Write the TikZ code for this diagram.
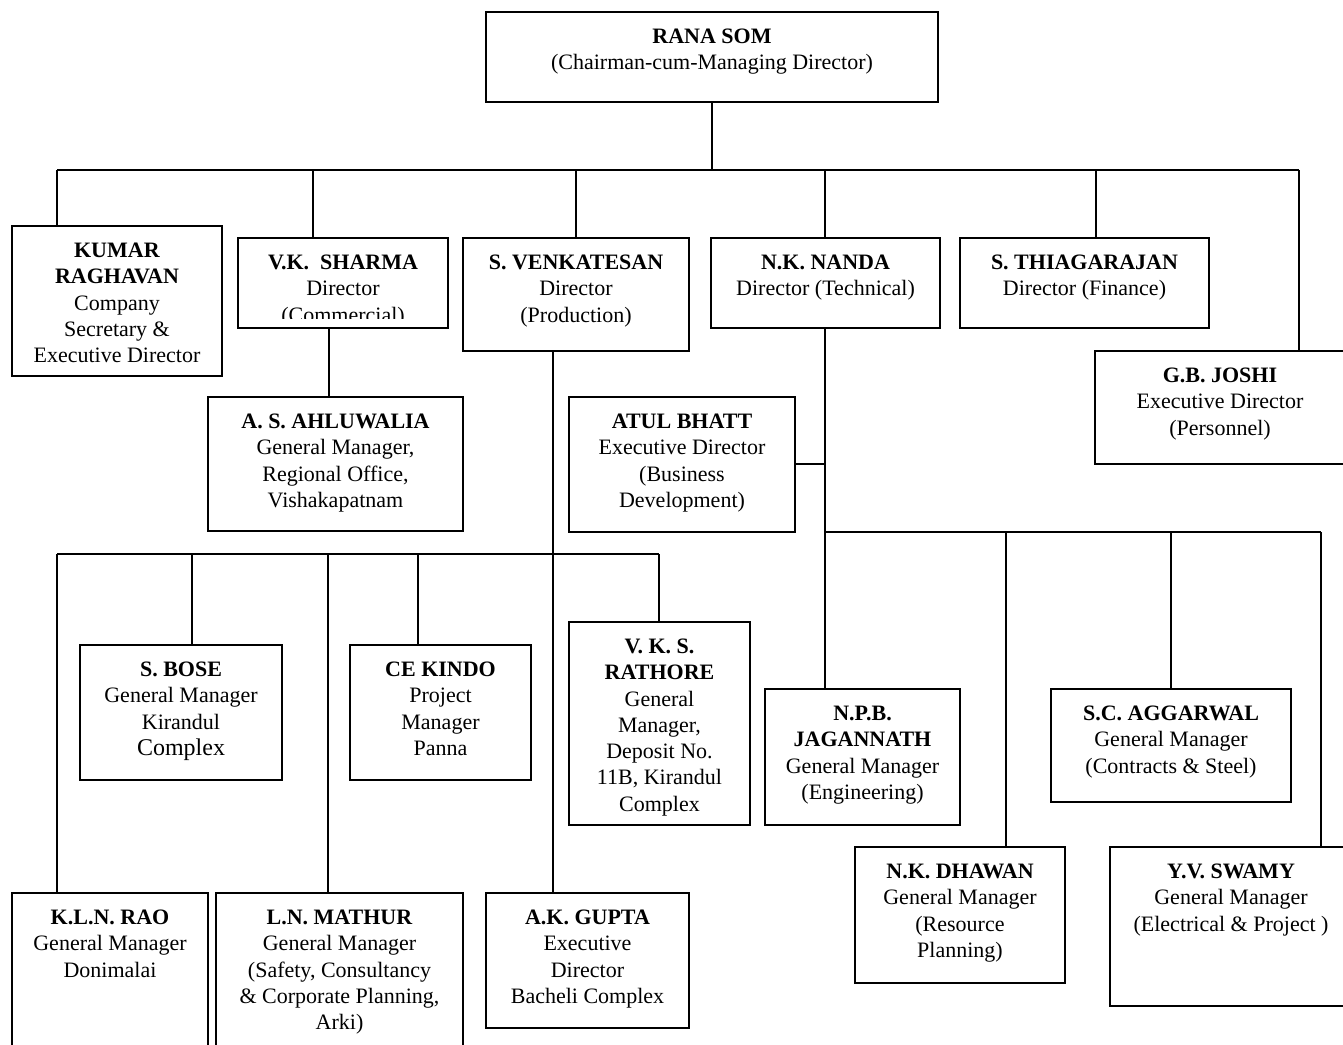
\documentclass[tikz,border=0pt]{standalone}
\usepackage{fontspec}
\setmainfont{Liberation Serif}
\newcommand\orgbox[5]{\node[box, minimum width={#4-#2}, minimum height={#5-#3}] (#1) at ({(#2+#4)/2},{-(#3+#5)/2}) {};}
\newcommand\orgtext[2]{\node[txt] (#1-t) at ([yshift=-13pt]#1.north) {\strut #2};}
\begin{document}
\begin{tikzpicture}[x=1pt,y=1pt,
  box/.style={draw, line width=1.6pt, inner sep=0pt, outer sep=0pt, rectangle},
  txt/.style={align=center, inner sep=0pt, outer sep=0pt, anchor=north, font=\fontsize{22}{26.3}\selectfont},
  conn/.style={line width=1.6pt}]
\useasboundingbox (0,0) rectangle (1343,-1044);
\clip (0,0) rectangle (1343,-1044);

% boxes
\orgbox{rana}{486}{12}{938}{102}
\orgbox{kumar}{12}{226}{222}{376}
\orgbox{sharma}{238}{238}{448}{328}
\orgbox{venk}{463}{238}{689}{351}
\orgbox{nanda}{711}{238}{940}{328}
\orgbox{thiag}{960}{238}{1209}{328}
\orgbox{joshi}{1095}{351}{1345}{464}
\orgbox{ahlu}{208}{397}{463}{531}
\orgbox{bhatt}{569}{397}{795}{532}
\orgbox{bose}{80}{645}{282}{780}
\orgbox{kindo}{350}{645}{531}{780}
\orgbox{rathore}{569}{622}{750}{825}
\orgbox{kln}{12}{893}{208}{1060}
\orgbox{mathur}{216}{893}{463}{1060}
\orgbox{gupta}{486}{893}{689}{1028}
\orgbox{jagan}{765}{689}{960}{825}
\orgbox{aggar}{1051}{689}{1291}{802}
\orgbox{dhawan}{855}{847}{1065}{983}
\orgbox{swamy}{1110}{847}{1352}{1006}

% texts
\orgtext{rana}{\textbf{RANA SOM}\\(Chairman-cum-Managing Director)}
\orgtext{kumar}{\textbf{KUMAR}\\\textbf{RAGHAVAN}\\Company\\Secretary \&\\Executive Director}
\begin{scope}
  \clip (sharma.north west) rectangle ([yshift=10pt]sharma.south east);
  \orgtext{sharma}{\textbf{V.K.\ \ SHARMA}\\Director\\(Commercial)}
\end{scope}
\orgtext{venk}{\textbf{S. VENKATESAN}\\Director\\(Production)}
\orgtext{nanda}{\textbf{N.K. NANDA}\\Director (Technical)}
\orgtext{thiag}{\textbf{S. THIAGARAJAN}\\Director (Finance)}
\orgtext{joshi}{\textbf{G.B. JOSHI}\\Executive Director\\(Personnel)}
\orgtext{ahlu}{\textbf{A. S. AHLUWALIA}\\General Manager,\\Regional Office,\\Vishakapatnam}
\orgtext{bhatt}{\textbf{ATUL BHATT}\\Executive Director\\(Business\\Development)}
\orgtext{bose}{\textbf{S. BOSE}\\General Manager\\Kirandul\\{\fontsize{24}{26.3}\selectfont Complex}}
\orgtext{kindo}{\textbf{CE KINDO}\\Project\\Manager\\Panna}
\orgtext{rathore}{\textbf{V. K. S.}\\\textbf{RATHORE}\\General\\Manager,\\Deposit No.\\11B, Kirandul\\Complex}
\orgtext{kln}{\textbf{K.L.N. RAO}\\General Manager\\Donimalai}
\orgtext{mathur}{\textbf{L.N. MATHUR}\\General Manager\\(Safety, Consultancy\\\& Corporate Planning,\\Arki)}
\orgtext{gupta}{\textbf{A.K. GUPTA}\\Executive\\Director\\Bacheli Complex}
\orgtext{jagan}{\textbf{N.P.B.}\\\textbf{JAGANNATH}\\General Manager\\(Engineering)}
\orgtext{aggar}{\textbf{S.C. AGGARWAL}\\General Manager\\(Contracts \& Steel)}
\orgtext{dhawan}{\textbf{N.K. DHAWAN}\\General Manager\\(Resource\\Planning)}
\orgtext{swamy}{\textbf{Y.V. SWAMY}\\General Manager\\(Electrical \& Project )}

% top-level bus
\coordinate (busAl) at (57,-170);
\coordinate (busAr) at (1299,-170);
\coordinate (dS) at (313,-170);
\coordinate (dV) at (576,-170);
\coordinate (dN) at (825,-170);
\coordinate (dT) at (1096,-170);
\coordinate (dR) at (712,-170);
\draw[conn] (rana.south -| dR) -- (dR);
\draw[conn] (busAl) -- (busAr);
\draw[conn] (busAl) -- (busAl |- kumar.north);
\draw[conn] (dS) -- (dS |- sharma.north);
\draw[conn] (dV) -- (dV |- venk.north);
\draw[conn] (dN) -- (dN |- nanda.north);
\draw[conn] (dT) -- (dT |- thiag.north);
\draw[conn] (busAr) -- (busAr |- joshi.north);

% commercial
\coordinate (dA) at (329,0);
\draw[conn] (sharma.south -| dA) -- (ahlu.north -| dA);

% production
\coordinate (vx) at (553,-554);
\coordinate (busBl) at (57,-554);
\coordinate (busBr) at (659,-554);
\coordinate (dBo) at (192,-554);
\coordinate (dMa) at (328,-554);
\coordinate (dKi) at (418,-554);
\draw[conn] (venk.south -| vx) -- (gupta.north -| vx);
\draw[conn] (busBl) -- (busBr);
\draw[conn] (busBl) -- (busBl |- kln.north);
\draw[conn] (dBo) -- (dBo |- bose.north);
\draw[conn] (dMa) -- (dMa |- mathur.north);
\draw[conn] (dKi) -- (dKi |- kindo.north);
\draw[conn] (busBr) -- (busBr |- rathore.north);

% technical
\coordinate (nx) at (825,-532);
\coordinate (bx) at (825,-464);
\coordinate (busCr) at (1321,-532);
\coordinate (dDh) at (1006,-532);
\coordinate (dAg) at (1171,-532);
\draw[conn] (nanda.south -| nx) -- (jagan.north -| nx);
\draw[conn] (bhatt.east |- bx) -- (bx);
\draw[conn] (nx) -- (busCr);
\draw[conn] (dDh) -- (dDh |- dhawan.north);
\draw[conn] (dAg) -- (dAg |- aggar.north);
\draw[conn] (busCr) -- (busCr |- swamy.north);
\end{tikzpicture}
\end{document}
